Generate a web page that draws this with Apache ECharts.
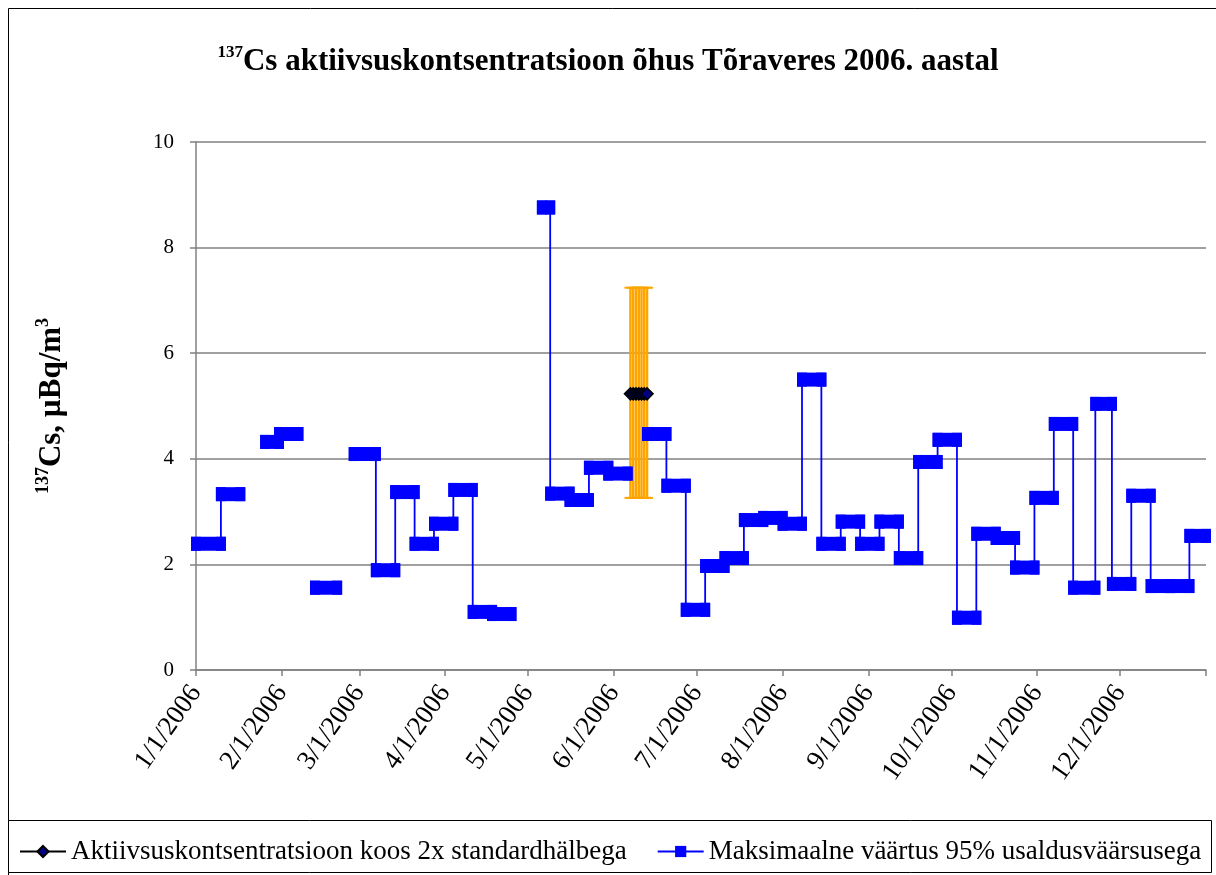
<!DOCTYPE html>
<html>
<head>
<meta charset="utf-8">
<script src="https://cdn.jsdelivr.net/npm/echarts@6/dist/echarts.min.js"></script>
<style>
  html, body { margin: 0; padding: 0; background: #fff; }
  #chart { width: 1216px; height: 875px; }
</style>
</head>
<body>
<div id="chart"></div>
<script>
// month ticks on the date axis (last one has no label)
const monthTicks = [
  "2006-01-01", "2006-02-01", "2006-03-01", "2006-04-01", "2006-05-01", "2006-06-01",
  "2006-07-01", "2006-08-01", "2006-09-01", "2006-10-01", "2006-11-01", "2006-12-01",
  "2007-01-01",
];

// sampling periods: [start, end, max value]; null = no measurement (line breaks)
const maxPeriods = [
  ["2006-01-01", "2006-01-10", 2.39],
  ["2006-01-10", "2006-01-17", 3.33],
  null,
  ["2006-01-26", "2006-01-31", 4.32],
  ["2006-01-31", "2006-02-07", 4.47],
  null,
  ["2006-02-13", "2006-02-21", 1.56],
  null,
  ["2006-02-27", "2006-03-07", 4.09],
  ["2006-03-07", "2006-03-14", 1.89],
  ["2006-03-14", "2006-03-21", 3.37],
  ["2006-03-21", "2006-03-28", 2.39],
  ["2006-03-28", "2006-04-04", 2.77],
  ["2006-04-04", "2006-04-11", 3.41],
  ["2006-04-11", "2006-04-18", 1.10],
  ["2006-04-18", "2006-04-25", 1.06],
  null,
  ["2006-05-06", "2006-05-09", 8.76],
  ["2006-05-09", "2006-05-16", 3.34],
  ["2006-05-16", "2006-05-23", 3.22],
  ["2006-05-23", "2006-05-30", 3.83],
  ["2006-05-30", "2006-06-06", 3.72],
  null,
  ["2006-06-13", "2006-06-20", 4.47],
  ["2006-06-20", "2006-06-27", 3.49],
  ["2006-06-27", "2006-07-04", 1.14],
  ["2006-07-04", "2006-07-11", 1.97],
  ["2006-07-11", "2006-07-18", 2.12],
  ["2006-07-18", "2006-07-25", 2.84],
  ["2006-07-25", "2006-08-01", 2.88],
  ["2006-08-01", "2006-08-08", 2.77],
  ["2006-08-08", "2006-08-15", 5.50],
  ["2006-08-15", "2006-08-22", 2.39],
  ["2006-08-22", "2006-08-29", 2.81],
  ["2006-08-29", "2006-09-05", 2.39],
  ["2006-09-05", "2006-09-12", 2.81],
  ["2006-09-12", "2006-09-19", 2.12],
  ["2006-09-19", "2006-09-26", 3.94],
  ["2006-09-26", "2006-10-03", 4.36],
  ["2006-10-03", "2006-10-10", 0.99],
  ["2006-10-10", "2006-10-17", 2.58],
  ["2006-10-17", "2006-10-24", 2.50],
  ["2006-10-24", "2006-10-31", 1.94],
  ["2006-10-31", "2006-11-07", 3.26],
  ["2006-11-07", "2006-11-14", 4.66],
  ["2006-11-14", "2006-11-22", 1.56],
  ["2006-11-22", "2006-11-28", 5.04],
  ["2006-11-28", "2006-12-05", 1.63],
  ["2006-12-05", "2006-12-12", 3.30],
  ["2006-12-12", "2006-12-19", 1.59],
  ["2006-12-19", "2006-12-26", 1.59],
  ["2006-12-26", "2007-01-01", 2.54],
];

// measured concentration with 2x std deviation
const activityDates = ["2006-06-07", "2006-06-08", "2006-06-09", "2006-06-10", "2006-06-11", "2006-06-12", "2006-06-13"];
const activityValues = [5.23, 5.23, 5.23, 5.23, 5.23, 5.23, 5.23];
const activityLow = [3.26, 3.26, 3.26, 3.26, 3.26, 3.26, 3.26];
const activityHigh = [7.24, 7.24, 7.24, 7.24, 7.24, 7.24, 7.24];

const seriesNames = [
  "Aktiivsuskontsentratsioon koos 2x standardhälbega",
  "Maksimaalne väärtus 95% usaldusväärsusega",
];

function toTime(s) {
  const p = s.split("-").map(Number);
  return new Date(p[0], p[1] - 1, p[2]).getTime();
}

const serif = '"Liberation Serif", "Times New Roman", serif';
const gridColor = "#808080";

// line points: start/end of every period, "-" breaks the line
const maxLine = [];
const maxBars = [];
maxPeriods.forEach((p) => {
  if (!p) {
    maxLine.push(["-", "-"]);
    return;
  }
  maxLine.push([toTime(p[0]), p[2]]);
  maxLine.push([toTime(p[1]), p[2]]);
  maxBars.push([toTime(p[0]), toTime(p[1]), p[2]]);
});

const activityLine = activityDates.map((d, i) => [toTime(d), activityValues[i]]);
const activityErr = activityDates.map((d, i) => [toTime(d), activityLow[i], activityHigh[i]]);

function renderBar(params, api) {
  const a = api.coord([api.value(0), api.value(2)]);
  const b = api.coord([api.value(1), api.value(2)]);
  return {
    type: "rect",
    shape: { x: a[0] - 5, y: a[1] - 7, width: b[0] - a[0] + 10, height: 14 },
    style: { fill: "#0000FF" },
  };
}

function renderErr(params, api) {
  const x = api.value(0);
  const lo = api.coord([x, api.value(1)]);
  const hi = api.coord([x, api.value(2)]);
  const cw = 6;
  return {
    type: "group",
    children: [
      { type: "line", shape: { x1: lo[0], y1: lo[1], x2: hi[0], y2: hi[1] }, style: { stroke: "#FFA500", lineWidth: 2.5 } },
      { type: "line", shape: { x1: hi[0] - cw, y1: hi[1], x2: hi[0] + cw, y2: hi[1] }, style: { stroke: "#FFA500", lineWidth: 2 } },
      { type: "line", shape: { x1: lo[0] - cw, y1: lo[1], x2: lo[0] + cw, y2: lo[1] }, style: { stroke: "#FFA500", lineWidth: 2 } },
    ],
  };
}

const chart = echarts.init(document.getElementById("chart"));

chart.setOption({
  backgroundColor: "#fff",
  animation: false,
  title: {
    text: "{sup|137}{main|Cs aktiivsuskontsentratsioon õhus Tõraveres 2006. aastal}",
    left: "center",
    top: 39,
    textStyle: {
      rich: {
        sup: { fontFamily: serif, fontWeight: "bold", fontSize: 17, color: "#000", verticalAlign: "top", lineHeight: 36 },
        main: { fontFamily: serif, fontWeight: "bold", fontSize: 31, color: "#000", lineHeight: 36 },
      },
    },
  },
  graphic: [
    { type: "rect", z: -10, shape: { x: 8.5, y: 8.5, width: 1300, height: 1000 }, style: { fill: "none", stroke: "#000", lineWidth: 1 } },
    { type: "rect", z: -10, shape: { x: 8.5, y: 820.5, width: 1203, height: 52 }, style: { fill: "#fff", stroke: "#000", lineWidth: 1 } },
  ],
  legend: {
    data: seriesNames,
    left: 14,
    top: 833,
    itemWidth: 46,
    itemHeight: 14,
    itemGap: 30,
    textStyle: { fontFamily: serif, fontSize: 27, color: "#000" },
  },
  grid: { left: 196, right: 10, top: 142, bottom: 205 },
  xAxis: {
    type: "value",
    min: toTime(monthTicks[0]),
    max: toTime(monthTicks[monthTicks.length - 1]),
    axisLine: { lineStyle: { color: gridColor, width: 1.5 } },
    axisTick: { show: true, length: 6, lineStyle: { color: gridColor, width: 1.5 }, customValues: monthTicks.map(toTime) },
    splitLine: { show: false },
    axisLabel: {
      customValues: monthTicks.slice(0, -1).map(toTime),
      rotate: 55,
      margin: 18,
      fontFamily: serif,
      fontSize: 27,
      color: "#000",
      formatter: (v) => {
        const d = new Date(v);
        return d.getMonth() + 1 + "/" + d.getDate() + "/" + d.getFullYear();
      },
    },
  },
  yAxis: {
    type: "value",
    min: 0,
    max: 10,
    interval: 2,
    name: "{sup|137}{b|Cs, µBq/m}{sup|3}",
    nameLocation: "middle",
    nameRotate: 90,
    nameGap: 126,
    nameTextStyle: {
      rich: {
        sup: { fontFamily: serif, fontWeight: "bold", fontSize: 18, color: "#000", verticalAlign: "top", lineHeight: 36 },
        b: { fontFamily: serif, fontWeight: "bold", fontSize: 31, color: "#000", lineHeight: 36 },
      },
    },
    axisLine: { show: true, lineStyle: { color: gridColor, width: 1.5 } },
    axisTick: { show: true, length: 6, lineStyle: { color: gridColor, width: 1.5 } },
    splitLine: { lineStyle: { color: gridColor, width: 1.5 } },
    axisLabel: { fontFamily: serif, fontSize: 21, color: "#000", margin: 22 },
  },
  series: [
    {
      name: seriesNames[0],
      type: "line",
      data: activityLine,
      symbol: "diamond",
      symbolSize: 12,
      itemStyle: { color: "#000080", borderColor: "#000", borderWidth: 1.5 },
      lineStyle: { color: "#000", width: 1.5 },
      z: 5,
    },
    {
      name: "error",
      type: "custom",
      renderItem: renderErr,
      data: activityErr,
      encode: { x: 0, y: [1, 2] },
      z: 1,
    },
    {
      name: seriesNames[1],
      type: "line",
      data: maxLine,
      connectNulls: false,
      symbol: "rect",
      symbolSize: [10, 14],
      itemStyle: { color: "#0000FF" },
      lineStyle: { color: "#0000FF", width: 1.8 },
      z: 2,
    },
    {
      name: "maxbars",
      type: "custom",
      renderItem: renderBar,
      data: maxBars,
      encode: { x: [0, 1], y: 2 },
      z: 3,
    },
  ],
});
</script>
</body>
</html>
